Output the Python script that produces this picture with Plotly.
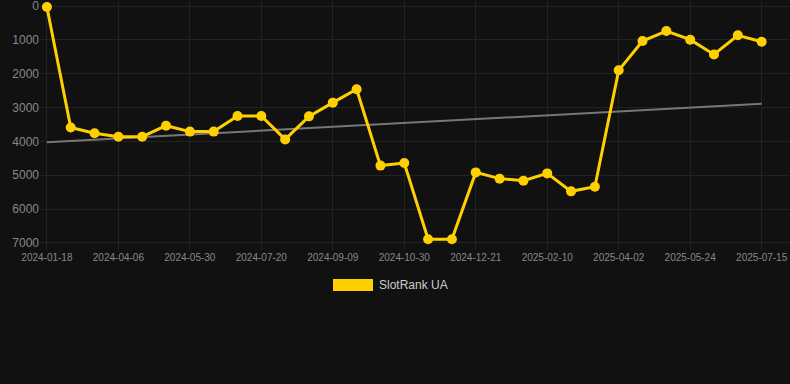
import numpy as np
import plotly.graph_objects as go

dates = [
    "2024-01-18", "2024-02-13", "2024-03-10", "2024-04-06", "2024-04-24", "2024-05-12",
    "2024-05-30", "2024-06-16", "2024-07-03", "2024-07-20", "2024-08-06", "2024-08-23",
    "2024-09-09", "2024-09-26", "2024-10-13", "2024-10-30", "2024-11-16", "2024-12-04",
    "2024-12-21", "2025-01-07", "2025-01-24", "2025-02-10", "2025-02-27", "2025-03-16",
    "2025-04-02", "2025-04-19", "2025-05-06", "2025-05-24", "2025-06-10", "2025-06-27",
    "2025-07-15",
]
rank = [
    30, 3590, 3760, 3860, 3860, 3535, 3710, 3710, 3250, 3250, 3940, 3260, 2855, 2460,
    4715, 4640, 6890, 6890, 4915, 5100, 5160, 4945, 5475, 5340, 1900, 1035, 740, 995,
    1430, 865, 1055,
]
tick_labels = dates[::3]
y_ticks = [0, 1000, 2000, 3000, 4000, 5000, 6000, 7000]
series_name = "SlotRank UA"

idx = np.arange(len(rank))
slope, intercept = np.polyfit(idx, rank, 1)
trend = slope * idx + intercept

fig = go.Figure()
fig.add_trace(go.Scatter(
    x=dates, y=trend, mode="lines",
    line=dict(color="#777777", width=2), showlegend=False, hoverinfo="skip",
))
fig.add_trace(go.Scatter(
    x=dates, y=rank, mode="lines+markers", name=series_name,
    line=dict(color="#FFD000", width=3),
    marker=dict(color="#FFD000", size=10),
    showlegend=False, cliponaxis=False,
))

PL, PT, PW, PH = 40, 1, 750, 249
fig.add_shape(type="rect", xref="paper", yref="paper",
              x0=(333 - PL) / PW, x1=(373 - PL) / PW,
              y0=(PT + PH - 291) / PH, y1=(PT + PH - 279) / PH,
              fillcolor="#FFD000", line=dict(width=0))
fig.add_annotation(xref="paper", yref="paper", x=(377 - PL) / PW, y=(PT + PH - 285) / PH,
                   text=series_name, showarrow=False, xanchor="left", yanchor="middle",
                   font=dict(family="Arial, Liberation Sans", size=12, color="#CCCCCC"))

fig.update_layout(
    width=790, height=384,
    margin=dict(l=PL, r=0, t=PT, b=384 - PT - PH),
    paper_bgcolor="#111111", plot_bgcolor="#111111",
    font=dict(family="Arial, Liberation Sans", color="#888888"),
    showlegend=False,
)
fig.update_xaxes(
    type="category", range=[-0.29, 31.19],
    tickmode="array", tickvals=tick_labels, ticktext=tick_labels,
    tickfont=dict(size=10, color="#888888"),
    showgrid=True, gridcolor="#222222", gridwidth=1,
    zeroline=False, showline=False, ticks="",
)
fig.update_yaxes(
    range=[7208, -148], tickvals=y_ticks,
    tickfont=dict(size=12, color="#888888"),
    ticklabeloverflow="allow",
    showgrid=True, gridcolor="#222222", gridwidth=1,
    zeroline=False, showline=False, ticks="",
)

fig.write_html("out.html", config={"displayModeBar": False},
               post_script="document.body.style.margin='0';")
